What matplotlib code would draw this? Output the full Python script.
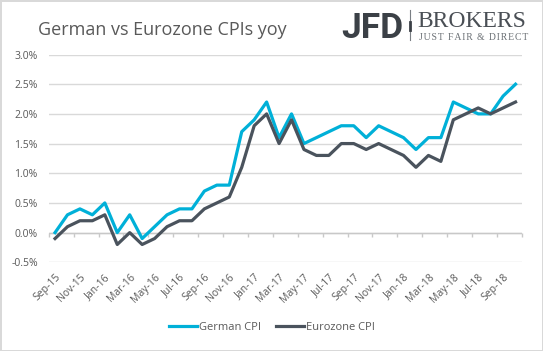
import matplotlib
matplotlib.use("Agg")
import matplotlib.pyplot as plt
from matplotlib.lines import Line2D
import numpy as np

plt.rcParams["font.family"] = ["Open Sans", "DejaVu Sans"]

months = [
    "Sep-15", "Oct-15", "Nov-15", "Dec-15", "Jan-16", "Feb-16", "Mar-16", "Apr-16",
    "May-16", "Jun-16", "Jul-16", "Aug-16", "Sep-16", "Oct-16", "Nov-16", "Dec-16",
    "Jan-17", "Feb-17", "Mar-17", "Apr-17", "May-17", "Jun-17", "Jul-17", "Aug-17",
    "Sep-17", "Oct-17", "Nov-17", "Dec-17", "Jan-18", "Feb-18", "Mar-18", "Apr-18",
    "May-18", "Jun-18", "Jul-18", "Aug-18", "Sep-18", "Oct-18",
]
german_cpi = [
    0.0, 0.3, 0.4, 0.3, 0.5, 0.0, 0.3, -0.1, 0.1, 0.3, 0.4, 0.4, 0.7, 0.8, 0.8, 1.7,
    1.9, 2.2, 1.6, 2.0, 1.5, 1.6, 1.7, 1.8, 1.8, 1.6, 1.8, 1.7, 1.6, 1.4, 1.6, 1.6,
    2.2, 2.1, 2.0, 2.0, 2.3, 2.5,
]
eurozone_cpi = [
    -0.1, 0.1, 0.2, 0.2, 0.3, -0.2, 0.0, -0.2, -0.1, 0.1, 0.2, 0.2, 0.4, 0.5, 0.6, 1.1,
    1.8, 2.0, 1.5, 1.9, 1.4, 1.3, 1.3, 1.5, 1.5, 1.4, 1.5, 1.4, 1.3, 1.1, 1.3, 1.2,
    1.9, 2.0, 2.1, 2.0, 2.1, 2.2,
]
y_ticks = [-0.5, 0.0, 0.5, 1.0, 1.5, 2.0, 2.5, 3.0]

text_color = "#595959"
grid_color = "#d9d9d9"
german_color = "#00b0d8"
euro_color = "#4a535d"

W, H = 543, 351
fig = plt.figure(figsize=(W / 100, H / 100), dpi=100)
fig.patch.set_edgecolor(grid_color)
fig.patch.set_linewidth(2)
ax = fig.add_axes([0.0899, 0.2527, 0.871, 0.592])

x = np.arange(len(months))
ax.plot(x, german_cpi, color=german_color, lw=2.3, label="German CPI", zorder=3)
ax.plot(x, eurozone_cpi, color=euro_color, lw=2.3, label="Eurozone CPI", zorder=3)

ymin, ymax = y_ticks[0], y_ticks[-1]
ax.set_xlim(-0.5, len(months) - 0.5)
ax.set_ylim(ymin, ymax)
ax.set_yticks(y_ticks)
ax.set_yticklabels([f"{v:.1f}%" for v in y_ticks])
ax.grid(axis="y", color=grid_color, lw=1)
ax.set_axisbelow(True)
for s in ax.spines.values():
    s.set_visible(False)

ax.set_xticks(x[::2])
ax.set_xticklabels(months[::2], rotation=45, ha="right", rotation_mode="anchor")
ax.tick_params(axis="x", length=0, pad=7, labelsize=7.5, labelcolor=text_color)
ax.tick_params(axis="y", length=0, pad=8, labelsize=7.5, labelcolor=text_color)

# zero axis line with boundary tick marks
ax.axhline(0, color="#c8c8c8", lw=1, zorder=2)
sec = ax.secondary_xaxis((0 - ymin) / (ymax - ymin))
sec.set_xticks(np.arange(-0.5, len(months), 2))
sec.set_xticklabels([])
sec.tick_params(axis="x", direction="out", length=3, color="#c8c8c8", width=1)
sec.spines["bottom"].set_visible(False)

fig.text(38 / W, 1 - 35 / H, "German vs Eurozone CPIs yoy", fontsize=13,
         color=text_color, va="baseline", ha="left")

# logo
fig.text(341 / W, 1 - 37.5 / H, "JFD", fontsize=25.5, fontweight="bold",
         family=["Roboto", "DejaVu Sans"], color="#3b4046", va="baseline", ha="left")
fig.add_artist(Line2D([410 / W, 410 / W], [1 - 10 / H, 1 - 40 / H],
                      transform=fig.transFigure, color="#7a7f84", lw=0.8))
fig.add_artist(Line2D([410 / W, 410 / W], [1 - 22 / H, 1 - 30 / H],
                      transform=fig.transFigure, color="#3b4046", lw=2))
fig.text(417 / W, 1 - 27 / H, "BROKERS", fontsize=17,
         family=["Liberation Serif", "DejaVu Serif"], color="#4a4f55", va="baseline", ha="left")
fig.text(419 / W, 1 - 40 / H, "\u200a".join("JUST FAIR & DIRECT"), fontsize=7,
         family=["Liberation Serif", "DejaVu Serif"], color="#6b7075", va="baseline", ha="left")

fig.legend(loc="center", bbox_to_anchor=(0.501, 1 - 327 / H), ncol=2, frameon=False,
           fontsize=8, labelcolor=text_color, handlelength=2.5, handletextpad=0.2,
           columnspacing=1.4)

fig.savefig("out.png", dpi=100)
plt.close(fig)
